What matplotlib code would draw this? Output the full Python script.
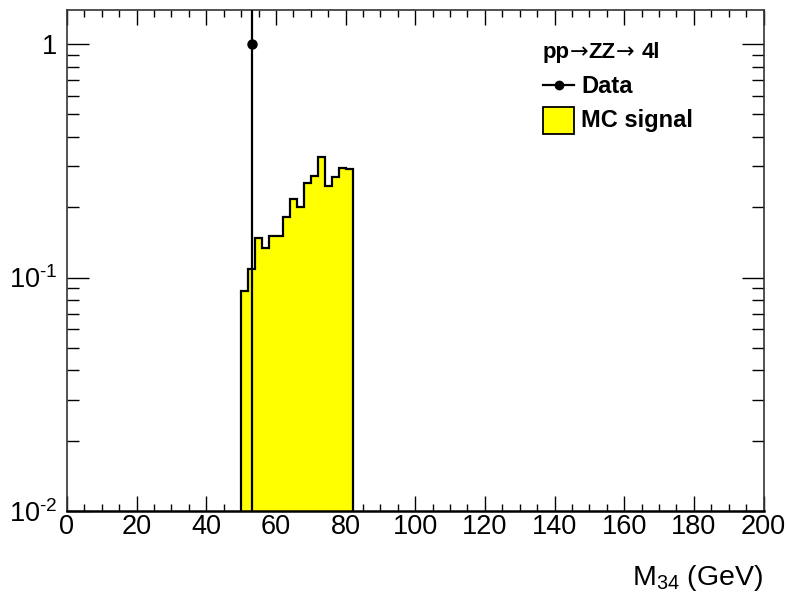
import numpy as np
import matplotlib; matplotlib.use("Agg")
import matplotlib.pyplot as plt
from matplotlib.ticker import FixedLocator, MultipleLocator, FixedFormatter, NullFormatter
from matplotlib.patches import Rectangle
from matplotlib.lines import Line2D

plt.rcParams["font.family"] = ["Liberation Sans", "DejaVu Sans"]
plt.rcParams["mathtext.fontset"] = "custom"
plt.rcParams["mathtext.rm"] = "Liberation Sans"
plt.rcParams["mathtext.it"] = "Liberation Sans:italic"
plt.rcParams["mathtext.bf"] = "Liberation Sans:bold"

# ── data ──────────────────────────────────────────────────────────────────────
bin_edges = np.arange(50, 84, 2)          # 2 GeV bins, 50 .. 82
mc_signal = [0.088, 0.109, 0.148, 0.134, 0.150, 0.150, 0.181, 0.217,
             0.200, 0.253, 0.273, 0.327, 0.247, 0.270, 0.296, 0.292]
data_x = [53.0]
data_y = [1.0]
data_err = np.sqrt(data_y)

W, H = 787, 597
def fx(px): return px / W
def fy(py): return 1 - py / H

# ── figure ────────────────────────────────────────────────────────────────────
fig = plt.figure(figsize=(W / 100, H / 100), dpi=100, facecolor="white")
ax = fig.add_axes([fx(67), fy(511), (763.5 - 67) / W, (511 - 10) / H])

ax.stairs(mc_signal, bin_edges, baseline=1e-5, fill=True,
          facecolor="#ffff00", edgecolor="none", zorder=2)
ax.stairs(mc_signal, bin_edges, baseline=1e-5, fill=False,
          color="black", lw=1.6, zorder=3)

lo = np.minimum(data_err, np.array(data_y) * (1 - 1e-9))
ax.errorbar(data_x, data_y, yerr=[lo, data_err], fmt="o", color="black",
            ms=6.5, lw=1.6, capsize=0, zorder=4)

ax.set_xlim(0, 200)
ax.set_yscale("log")
ax.set_ylim(0.01, 1.40)

ax.xaxis.set_major_locator(MultipleLocator(20))
ax.xaxis.set_minor_locator(MultipleLocator(5))
ax.yaxis.set_major_locator(FixedLocator([0.01, 0.1, 1]))
ax.yaxis.set_major_formatter(FixedFormatter([r"$10^{\text{-}2}$",
                                             r"$10^{\text{-}1}$", "1"]))
minors = [m * d for d in (0.01, 0.1, 1) for m in range(2, 10)]
ax.yaxis.set_minor_locator(FixedLocator(minors))
ax.yaxis.set_minor_formatter(NullFormatter())

ax.tick_params(which="both", direction="in", top=True, right=True,
               labelsize=19.5, colors="black")
ax.tick_params(axis="x", which="major", length=10.5, width=1.0, pad=2)
ax.tick_params(axis="x", which="minor", length=5.3, width=1.0)
ax.tick_params(axis="y", which="major", length=15.5, width=1.0, pad=7)
ax.tick_params(axis="y", which="minor", length=8.4, width=1.0)
for sp in ax.spines.values():
    sp.set_linewidth(1.2)
    sp.set_color("#333333")
ax.spines["bottom"].set_linewidth(1.8)
ax.spines["bottom"].set_color("black")

fig.text(fx(763), fy(578), r"M$_{34}$ (GeV)", ha="right", va="center",
         fontsize=20.5)

# ── legend (drawn by hand, ROOT style) ────────────────────────────────────────
# header "pp→ZZ→ 4l": bold letters, thin arrows like the ROOT symbol font
renderer = fig.canvas.get_renderer()
xcur = 543
for piece, fam, wt, gap in [("pp", "Liberation Sans", "bold", 0),
                            ("\u2192", "DejaVu Sans", "normal", 0),
                            ("ZZ", "Liberation Sans", "bold", 0),
                            ("\u2192", "DejaVu Sans", "normal", 0),
                            ("4l", "Liberation Sans", "bold", 7)]:
    xcur += gap
    t = fig.text(fx(xcur), fy(58), piece, ha="left", va="baseline",
                 fontsize=16, fontweight=wt, family=fam)
    xcur += t.get_window_extent(renderer).width

fig.add_artist(Line2D([fx(543), fx(574)], [fy(85), fy(85)], color="black",
                      lw=1.6, transform=fig.transFigure))
fig.add_artist(Line2D([fx(559)], [fy(85)], color="black", marker="o",
                      ms=6, lw=0, transform=fig.transFigure))
fig.text(fx(581), fy(93), "Data", ha="left", va="baseline",
         fontsize=17, fontweight="bold")
fig.add_artist(Rectangle((fx(543), fy(134)), 31 / W, 27 / H,
                         facecolor="#ffff00", edgecolor="black", lw=1.3,
                         transform=fig.transFigure))
fig.text(fx(581), fy(127), "MC signal", ha="left", va="baseline",
         fontsize=17, fontweight="bold")

fig.savefig("out.png", dpi=100, facecolor="white")
